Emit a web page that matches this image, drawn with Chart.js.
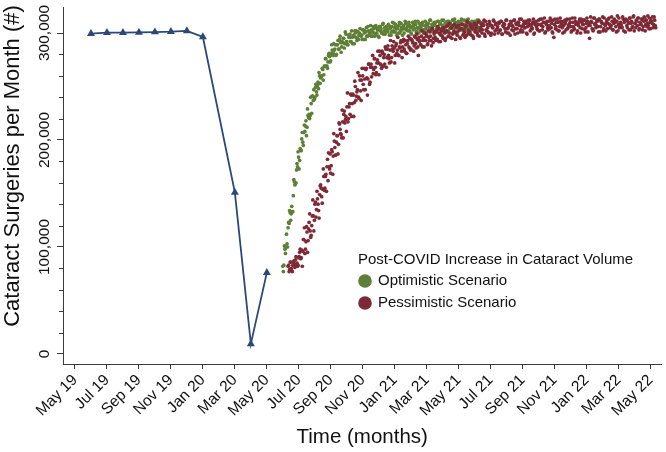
<!DOCTYPE html>
<html>
<head>
<meta charset="utf-8">
<script src="https://cdn.jsdelivr.net/npm/chart.js@4.4.1/dist/chart.umd.min.js"></script>
<style>
html,body{margin:0;padding:0;background:#ffffff;}
#wrap{width:666px;height:452px;position:relative;}
</style>
</head>
<body>
<div id="wrap"><canvas id="c" width="666" height="452"></canvas></div>
<script>
// ---- Data (x = months since May 2019) ----
const tickMonths = [0,2,4,6,8,10,12,14,16,18,20,22,24,26,28,30,32,34,36];
const tickLabels = ["May 19","Jul 19","Sep 19","Nov 19","Jan 20","Mar 20","May 20","Jul 20","Sep 20","Nov 20","Jan 21","Mar 21","May 21","Jul 21","Sep 21","Nov 21","Jan 22","Mar 22","May 22"];
const yMajorTicks = [0,100000,200000,300000];
const yMinorTicks = [20000,40000,60000,80000,120000,140000,160000,180000,220000,240000,260000,280000];

const observedMonths = [1,2,3,4,5,6,7,8,10,11,12];
const observedValues = [299400,300300,300300,300600,300900,301200,301900,296300,151000,9500,76000];

const optimisticStartMonth = 13.0;   // Jun 1 2020
const pessimisticStartMonth = 13.33; // Jun 11 2020
const daysPerMonth = 30.44;

// daily values in thousands of surgeries per month: even days (0,2,4,...) and odd days (1,3,5,...)
const optimisticEvenDaysK = [82,83,98,100,103,118,122,132,131,133,
148,161,159,172,175,184,181,191,201,198,
207,208,218,212,223,224,223,234,241,237,
238,249,245,251,248,260,258,260,266,261,
269,276,269,273,281,273,281,284,281,284,
289,280,289,285,294,291,287,291,295,290,
299,292,289,296,299,292,296,297,290,300,
302,295,294,300,298,298,303,294,302,301,
297,306,298,300,303,297,306,300,298,305,
303,297,306,302,300,308,299,305,302,306,
301,307,304,298,306,302,309,301,304,306,
300,310,302,305,298,307,304,309,304,302,
310,307,300,306,303,308,311,301,305,304,
309,302,307,310,300,307,304,309,306,302,
312,305,308,301,310,307,303,306,311,304,
309,302,307,312,305,301,309,307,311,304,
308,305,312,301,310,307,306,311,309,303,
313,304,308,305,307,312,302,310,306,309,
311,304,307,308,301,312,305,310,303,308];
const optimisticOddDaysK = [77,101,94,112,100,123,134,125,138,133,
163,158,160,178,189,173,192,190,207,195,
214,213,204,229,221,220,240,225,241,247,
240,252,242,254,263,253,259,267,256,269,
276,269,267,279,278,274,289,279,290,285,
279,289,293,285,297,282,292,295,286,301,
292,289,298,296,292,302,290,298,302,296,
293,301,298,304,297,294,303,300,294,305,
297,302,300,307,297,301,304,297,307,300,
303,296,306,304,300,309,302,299,306,303,
308,298,305,301,310,301,305,308,298,304,
307,300,309,303,306,300,311,303,306,309,
302,305,299,310,307,304,308,301,311,300,
306,305,309,303,302,311,300,308,309,305,
312,302,306,307,301,310,304,311,303,308,
300,312,306,305,309,302,311,302,308,309,
305,312,304,313,301,307,310,306,303,311,
308,302,312,305,309,304,313,307,301,310,
308,303,311,306,309,302,312,305,310];

const pessimisticEvenDaysK = [82,77,86,80,77,85,84,88,83,82,
90,95,89,97,96,107,94,105,114,106,
123,115,111,129,129,125,142,135,145,134,
149,158,147,154,166,155,168,175,162,175,
187,176,189,185,199,186,198,204,196,215,
206,202,217,224,216,222,231,217,231,224,
242,234,242,235,250,241,247,240,260,246,
256,260,247,257,266,258,257,271,254,271,
268,262,276,268,263,275,272,283,271,267,
281,277,271,285,277,288,276,284,273,288,
283,286,279,290,284,279,287,291,283,287,
294,283,289,281,293,287,295,285,293,291,
288,296,286,294,279,292,289,297,287,295,
300,293,298,290,296,301,293,304,291,299,
296,302,294,304,300,292,302,297,305,300,
295,302,307,297,300,305,295,307,301,300,
305,298,307,303,295,304,308,299,301,306,
298,310,303,299,306,304,297,308,301,305,
300,310,297,304,308,303,307,299,311,302,
305,300,309,298,307,305,311,302,309,304,
300,309,303,311,299,306,308,301,312,304,
300,307,311,303,306,312,299,309,304,310,
307,301,313,302,308,305,311,300,306,309,
312,303,305,310,299,308,311,304,308,302,
313,307,303,310,314,301,308,305,311,304,
312,309,300,296,313,306,303,310,302,314,
308,305,311,301,309,312,304,307,313,306,
302,310,303,314,308,300,309,311,305,313,
304,308,312,301,309,311,307,295,315,310,
303,314,308,305,312,306,313,301,311,309,
302,314,307,310,304,313,308,305,315,303,
309,312,306,311,302,314,307,308,305,313,
310,301,312,305,309,314,303,311,306,316,
309,305,311,314,303,310,308,313,306,315,
302,312,309,307,314,304,311,315,308,312,
305];
const pessimisticOddDaysK = [83,79,86,78,83,87,81,91,85,83,
91,98,90,82,107,118,98,119,95,117,
131,109,120,144,115,140,128,152,140,127,
157,155,141,173,153,166,152,182,188,173,
169,191,168,206,193,186,204,187,216,210,
205,228,202,227,219,208,244,220,234,243,
222,243,222,255,237,245,263,239,256,237,
267,252,267,247,267,242,271,252,268,259,
279,266,276,261,272,283,261,279,270,283,
269,280,287,268,285,279,272,293,277,285,
292,272,288,281,296,279,286,293,277,292,
285,293,281,290,297,286,284,294,291,283,
297,290,299,287,296,293,289,302,293,287,
300,297,289,302,293,297,288,304,295,301,
293,301,306,292,299,298,304,295,302,293,
306,301,297,309,296,305,299,301,308,294,
305,301,307,296,304,308,298,303,296,307,
311,300,302,308,298,305,295,309,303,307,
298,311,302,305,300,309,312,297,303,308,
301,311,307,300,305,312,299,308,303,306,
310,302,311,299,307,309,304,312,300,305,
308,298,310,307,302,312,304,308,300,310,
313,303,306,301,311,305,309,299,312,307,
302,308,304,313,300,310,306,303,312,302,
308,313,306,310,300,309,311,303,307,314,
305,301,312,308,304,310,313,302,306,311,
309,300,307,312,303,313,305,308,310,301,
314,306,304,311,309,302,307,313,300,310,
308,312,303,305,314,301,309,307,311,304,
302,314,309,307,311,301,313,306,310,315,
304,308,302,312,309,314,305,307,311,303,
313,310,301,316,308,305,310,306,315,302,
312,313,307,311,303,314,309,305,315,302,
309,312,307,314,304,308,313,303,311,314,
308,306,316,304,310,312,309,305,315,307];

// ---- Styling ----
const FONT = '"Liberation Sans", Arial, Helvetica, sans-serif';
const TEXT = '#111111';
const AXIS = '#3a3a3a';
const BLUE = '#2b4878';
const GREEN = '#5e7f36';
const RED = '#7e2a36';

Chart.defaults.font.family = FONT;
Chart.defaults.color = TEXT;

// merge even-day and odd-day readings into one daily series
function dailyPoints(startMonth, evenK, oddK) {
  const pts = [];
  evenK.forEach((v, i) => {
    pts.push({ x: startMonth + (2 * i) / daysPerMonth, y: v * 1000 });
    if (i < oddK.length) pts.push({ x: startMonth + (2 * i + 1) / daysPerMonth, y: oddK[i] * 1000 });
  });
  return pts;
}

const legendTitle = 'Post-COVID Increase in Cataract Volume';
const yTitle = 'Cataract Surgeries per Month (#)';

const overlay = {
  id: 'overlay',
  afterDraw(chart) {
    const { ctx } = chart;
    const y = chart.scales.y;
    ctx.save();
    // minor y ticks
    ctx.strokeStyle = AXIS;
    ctx.lineWidth = 1;
    yMinorTicks.forEach(v => {
      const py = Math.round(y.getPixelForValue(v)) + 0.5;
      ctx.beginPath();
      ctx.moveTo(chart.chartArea.left - 4, py);
      ctx.lineTo(chart.chartArea.left, py);
      ctx.stroke();
    });
    // rotated y tick labels
    ctx.fillStyle = TEXT;
    ctx.font = '15.5px ' + FONT;
    ctx.textAlign = 'center';
    ctx.textBaseline = 'middle';
    yMajorTicks.forEach(v => {
      const py = y.getPixelForValue(v);
      ctx.save();
      ctx.translate(44.5, py);
      ctx.rotate(-Math.PI / 2);
      ctx.fillText(v.toLocaleString('en-US'), 0, 0);
      ctx.restore();
    });
    // y axis title
    ctx.font = '22px ' + FONT;
    ctx.save();
    ctx.translate(12.5, 166);
    ctx.rotate(-Math.PI / 2);
    ctx.fillText(yTitle, 0, 0);
    ctx.restore();
    // legend
    ctx.textAlign = 'left';
    ctx.font = '15px ' + FONT;
    ctx.fillText(legendTitle, 358, 259.5);
    const items = chart.data.datasets.filter(d => d.inLegend);
    items.forEach((d, i) => {
      const cy = 281 + i * 22;
      ctx.beginPath();
      ctx.fillStyle = d.backgroundColor;
      ctx.arc(365, cy, 6.8, 0, Math.PI * 2);
      ctx.fill();
      ctx.fillStyle = TEXT;
      ctx.fillText(d.label, 378, cy);
    });
    ctx.restore();
  }
};

new Chart(document.getElementById('c'), {
  type: 'scatter',
  data: {
    datasets: [
      {
        label: 'Observed',
        data: observedMonths.map((m, i) => ({ x: m, y: observedValues[i] })),
        showLine: true,
        borderColor: BLUE,
        borderWidth: 1.8,
        backgroundColor: BLUE,
        pointStyle: 'triangle',
        pointRadius: 4.6,
        pointBorderWidth: 0,
        pointBackgroundColor: BLUE,
        order: 3
      },
      {
        label: 'Optimistic Scenario',
        inLegend: true,
        data: dailyPoints(optimisticStartMonth, optimisticEvenDaysK, optimisticOddDaysK),
        backgroundColor: GREEN,
        pointRadius: 1.85,
        pointBorderWidth: 0,
        order: 2
      },
      {
        label: 'Pessimistic Scenario',
        inLegend: true,
        data: dailyPoints(pessimisticStartMonth, pessimisticEvenDaysK, pessimisticOddDaysK),
        backgroundColor: RED,
        pointRadius: 1.85,
        pointBorderWidth: 0,
        order: 1
      }
    ]
  },
  options: {
    responsive: false,
    animation: false,
    events: [],
    layout: { padding: { left: 0, right: 1, top: 7, bottom: 0 } },
    plugins: { legend: { display: false }, tooltip: { enabled: false } },
    scales: {
      x: {
        type: 'linear',
        min: -0.75,
        max: 36.68,
        afterBuildTicks: s => { s.ticks = tickMonths.map(v => ({ value: v })); },
        afterFit: s => { s.height = 88; },
        ticks: {
          autoSkip: false,
          minRotation: 45,
          maxRotation: 45,
          padding: 2,
          color: TEXT,
          font: { size: 15.5 },
          callback: (v, i) => tickLabels[i]
        },
        grid: { drawOnChartArea: false, drawTicks: true, tickLength: 5, tickColor: AXIS, tickWidth: 1 },
        border: { display: true, color: AXIS, width: 1 },
        title: { display: true, text: 'Time (months)', color: TEXT, font: { size: 20.5 }, padding: { top: 0, bottom: 2 } }
      },
      y: {
        type: 'linear',
        min: -9350,
        max: 324300,
        afterBuildTicks: s => { s.ticks = yMajorTicks.map(v => ({ value: v })); },
        afterFit: s => { s.width = 63; },
        ticks: { display: false },
        grid: { drawOnChartArea: false, drawTicks: true, tickLength: 6, tickColor: AXIS, tickWidth: 1 },
        border: { display: true, color: AXIS, width: 1 }
      }
    }
  },
  plugins: [overlay]
});
</script>
</body>
</html>
